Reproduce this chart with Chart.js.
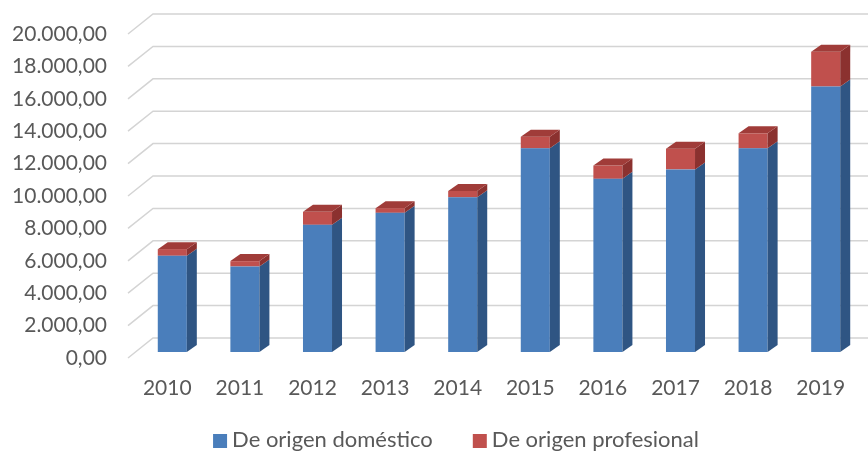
<!DOCTYPE html>
<html>
<head>
<meta charset="utf-8">
<script src="https://cdn.jsdelivr.net/npm/chart.js@4.4.1/dist/chart.umd.min.js"></script>
<style>
  html, body { margin: 0; padding: 0; background: #fff; }
  #wrap { width: 868px; height: 457px; }
</style>
</head>
<body>
<div id="wrap"><canvas id="myChart" width="868" height="457"></canvas></div>
<script>
// data
const years = ['2010', '2011', '2012', '2013', '2014', '2015', '2016', '2017', '2018', '2019'];
const domestico = [5940, 5280, 7850, 8590, 9550, 12570, 10690, 11270, 12570, 16390];
const profesional = [410, 330, 800, 290, 390, 720, 820, 1280, 930, 2140];
const seriesNames = ['De origen doméstico', 'De origen profesional'];
const yTicks = [0, 2000, 4000, 6000, 8000, 10000, 12000, 14000, 16000, 18000, 20000];

const frontColors = ['#4a7ebb', '#c0504d'];
const sideColors = ['#2f5583', '#8b312f'];
const topColors = ['#3d6a9e', '#a03c39'];
const textColor = '#595959';
const fontFamily = 'Lato, "Noto Sans", sans-serif';

function fmt(v) {
    const s = Math.round(v).toString().replace(/\B(?=(\d{3})+(?!\d))/g, '.');
    return s + ',00';
}

// 3d look: back wall gridlines + side/top faces of the bars
const depth = { dx: 10, dy: -7 };
const wall = { frontDx: -8, frontDy: 6, backDx: 17, backDy: -14 };

const walls = {
    id: 'walls',
    beforeDatasetsDraw(chart) {
        const ctx = chart.ctx;
        const y = chart.scales.y;
        const left = chart.chartArea.left;
        ctx.save();
        ctx.strokeStyle = '#d4d4d4';
        ctx.lineWidth = 1.5;
        yTicks.forEach(v => {
            const py = y.getPixelForValue(v);
            ctx.beginPath();
            ctx.moveTo(left + wall.frontDx, py + wall.frontDy);
            ctx.lineTo(left + wall.backDx, py + wall.backDy);
            ctx.lineTo(chart.width, py + wall.backDy);
            ctx.stroke();
        });
        ctx.restore();
    },
    afterDatasetsDraw(chart) {
        const ctx = chart.ctx;
        const nSets = chart.data.datasets.length;
        ctx.save();
        for (let i = 0; i < years.length; i++) {
            for (let d = 0; d < nSets; d++) {
                const bar = chart.getDatasetMeta(d).data[i];
                const l = bar.x - bar.width / 2;
                const r = bar.x + bar.width / 2;
                const top = Math.min(bar.y, bar.base);
                const bottom = Math.max(bar.y, bar.base);
                ctx.fillStyle = sideColors[d];
                ctx.beginPath();
                ctx.moveTo(r, top);
                ctx.lineTo(r + depth.dx, top + depth.dy);
                ctx.lineTo(r + depth.dx, bottom + depth.dy);
                ctx.lineTo(r, bottom);
                ctx.closePath();
                ctx.fill();
                if (d === nSets - 1) {
                    ctx.fillStyle = topColors[d];
                    ctx.beginPath();
                    ctx.moveTo(l, top);
                    ctx.lineTo(l + depth.dx, top + depth.dy);
                    ctx.lineTo(r + depth.dx, top + depth.dy);
                    ctx.lineTo(r, top);
                    ctx.closePath();
                    ctx.fill();
                }
            }
        }
        ctx.restore();
    }
};

// legend drawn by hand so the spacing matches
const bottomLegend = {
    id: 'bottomLegend',
    afterDraw(chart) {
        const ctx = chart.ctx;
        ctx.save();
        ctx.font = '22px ' + fontFamily;
        const box = 14, gapText = 5, gapItem = 40;
        const widths = chart.data.datasets.map(ds => ctx.measureText(ds.label).width);
        let total = 0;
        widths.forEach((w, k) => { total += box + gapText + w + (k > 0 ? gapItem : 0); });
        let x = 456 - total / 2;
        const cy = 440;
        chart.data.datasets.forEach((ds, k) => {
            ctx.fillStyle = ds.backgroundColor;
            ctx.fillRect(x, cy - box / 2 + 1, box, box);
            x += box + gapText;
            ctx.fillStyle = textColor;
            ctx.textBaseline = 'middle';
            ctx.textAlign = 'left';
            ctx.fillText(ds.label, x, cy);
            x += widths[k] + gapItem;
        });
        ctx.restore();
    }
};

const ctx = document.getElementById('myChart').getContext('2d');
const myChart = new Chart(ctx, {
    type: 'bar',
    data: {
        labels: years,
        datasets: [{
            label: seriesNames[0],
            data: domestico,
            backgroundColor: frontColors[0],
            barPercentage: 0.4,
            categoryPercentage: 1
        }, {
            label: seriesNames[1],
            data: profesional,
            backgroundColor: frontColors[1],
            barPercentage: 0.4,
            categoryPercentage: 1
        }]
    },
    options: {
        responsive: false,
        animation: false,
        layout: { padding: { top: 28, right: 6, left: 0, bottom: 0 } },
        plugins: {
            legend: { display: false },
            tooltip: { enabled: false }
        },
        scales: {
            x: {
                stacked: true,
                grid: { display: false, drawTicks: false },
                border: { display: false },
                ticks: {
                    color: textColor,
                    font: { family: fontFamily, size: 21 },
                    padding: 24,
                    labelOffset: -5,
                    maxRotation: 0
                },
                afterFit(scale) {
                    scale.height = 105;
                    scale.paddingLeft = 0;
                    scale.paddingRight = 0;
                }
            },
            y: {
                stacked: true,
                min: 0,
                max: 20000,
                grid: { display: false, drawTicks: false },
                border: { display: false },
                ticks: {
                    stepSize: 2000,
                    color: textColor,
                    font: { family: fontFamily, size: 21 },
                    padding: 29,
                    labelOffset: 6,
                    callback: v => fmt(v)
                },
                afterFit(scale) {
                    scale.width = 136;
                    scale.paddingTop = 0;
                    scale.paddingBottom = 0;
                }
            }
        }
    },
    plugins: [walls, bottomLegend]
});
</script>
</body>
</html>
